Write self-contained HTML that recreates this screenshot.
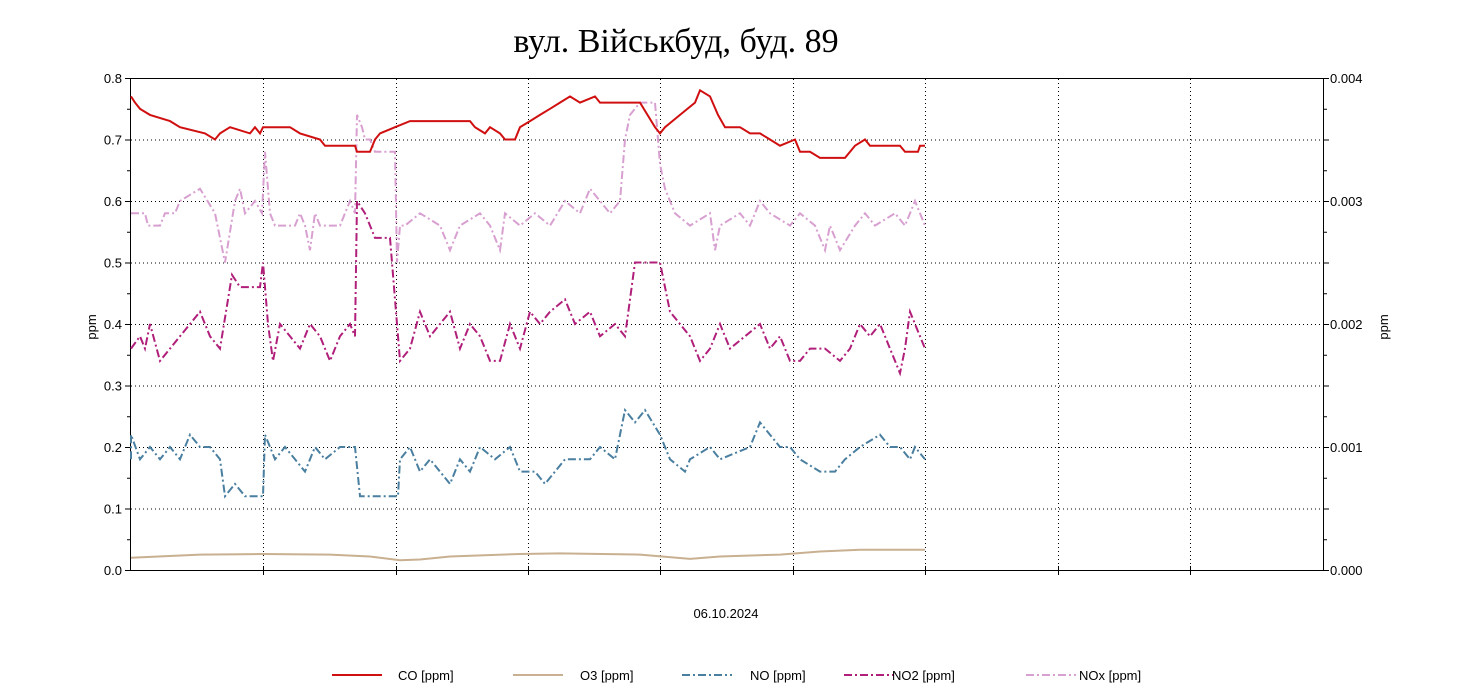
<!DOCTYPE html><html><head><meta charset="utf-8"><style>body{margin:0;background:#fff}svg{display:block}text{font-family:"Liberation Sans",sans-serif}</style></head><body>
<svg id="s" width="1471" height="697" xmlns="http://www.w3.org/2000/svg">
<text x="676" y="52" font-family="Liberation Serif" font-size="34" text-anchor="middle" style="font-family:'Liberation Serif',serif">вул. Військбуд, буд. 89</text>
<g id="grid" stroke="#000" stroke-width="1" stroke-dasharray="1,3"></g>
<rect x="130.5" y="78.5" width="1193" height="492" fill="none" stroke="#000"/>
<g id="ticks" stroke="#000"></g>
<g id="labels" font-size="13"></g>
<text x="726" y="618" font-size="13" text-anchor="middle">06.10.2024</text>
<text transform="translate(96,327) rotate(-90)" font-size="13" text-anchor="middle">ppm</text>
<text transform="translate(1388,327) rotate(-90)" font-size="13" text-anchor="middle">ppm</text>
<g id="series" fill="none" stroke-width="2"></g>
<g font-size="13">
<line x1="332" y1="675" x2="382" y2="675" stroke="#d01010" stroke-width="2"/><text x="398" y="680">CO [ppm]</text>
<line x1="513" y1="675" x2="563" y2="675" stroke="#c8b090" stroke-width="2"/><text x="580" y="680">O3 [ppm]</text>
<line x1="682" y1="675" x2="732" y2="675" stroke="#4a7fa0" stroke-width="2" stroke-dasharray="8,3,2,3"/><text x="750" y="680">NO [ppm]</text>
<line x1="844" y1="675" x2="894" y2="675" stroke="#b0207a" stroke-width="2" stroke-dasharray="8,3,2,3"/><text x="892" y="680" dx="0">NO2 [ppm]</text>
<line x1="1026" y1="675" x2="1076" y2="675" stroke="#d8a0d0" stroke-width="2" stroke-dasharray="8,3,2,3"/><text x="1079" y="680">NOx [ppm]</text>
</g>
</svg>
<script>
const NS="http://www.w3.org/2000/svg";
function el(p,t,a){const e=document.createElementNS(NS,t);for(const k in a)e.setAttribute(k,a[k]);document.getElementById(p).appendChild(e);return e;}
const Y=v=>570-v*615;
for(let i=1;i<=7;i++){const y=Y(i/10)+.5;el('grid','line',{x1:131,x2:1323,y1:y,y2:y});}
[263,396,528,660,793,925,1058,1190].forEach(x=>{el('grid','line',{x1:x+.5,x2:x+.5,y1:79,y2:570});el('ticks','line',{x1:x+.5,x2:x+.5,y1:566,y2:575});});
for(let i=0;i<=16;i++){const y=Y(i/20)+.5;el('ticks','line',{x1:i%2?127:125,x2:130,y1:y,y2:y});el('ticks','line',{x1:1324,x2:i%2?1327:1329,y1:y,y2:y});}
for(let i=0;i<=8;i++){const y=Y(i/10)+5;const t=el('labels','text',{x:122,y:y,'text-anchor':'end'});t.textContent=(i/10).toFixed(1);
if(i%2==0){const r=el('labels','text',{x:1330,y:y});r.textContent=(i/2000).toFixed(3);}}
function S(d,c,dash){let p=[];for(let i=0;i<d.length;i+=2)p.push(d[i]+','+Y(d[i+1]).toFixed(1));const a={points:p.join(' '),stroke:c};if(dash)a['stroke-dasharray']='8,3,2,3';el('series','polyline',a);}
S([131,.18,131,.22,140,.18,150,.20,160,.18,170,.20,180,.18,190,.22,200,.20,210,.20,220,.18,225,.12,235,.14,245,.12,263,.12,265,.22,275,.18,285,.20,295,.18,305,.16,315,.20,325,.18,340,.20,355,.20,360,.12,380,.12,398,.12,400,.18,410,.20,420,.16,430,.18,440,.16,450,.14,460,.18,470,.16,480,.20,495,.18,510,.20,520,.16,535,.16,545,.14,555,.16,565,.18,590,.18,600,.20,615,.18,625,.26,635,.24,645,.26,660,.22,670,.18,685,.16,690,.18,710,.20,720,.18,750,.20,760,.24,770,.22,780,.20,790,.20,800,.18,820,.16,835,.16,845,.18,860,.20,880,.22,890,.20,900,.20,910,.18,915,.20,925,.18],'#4a7fa0',1);
S([131,.58,145,.58,148,.56,160,.56,165,.58,175,.58,180,.60,200,.62,215,.58,225,.50,235,.60,240,.62,245,.58,255,.60,262,.58,265,.68,270,.58,275,.56,295,.56,300,.58,305,.56,310,.52,315,.58,320,.56,340,.56,345,.58,350,.60,355,.58,357,.74,362,.72,365,.70,370,.70,375,.68,395,.68,397,.50,400,.56,405,.56,420,.58,440,.56,450,.52,460,.56,480,.58,490,.56,500,.52,505,.58,520,.56,535,.58,550,.56,565,.60,580,.58,590,.62,600,.60,610,.58,620,.60,625,.70,630,.74,640,.76,655,.76,660,.66,665,.62,675,.58,690,.56,710,.58,715,.52,720,.56,740,.58,750,.56,760,.60,770,.58,790,.56,800,.58,815,.56,825,.52,830,.56,840,.52,855,.56,865,.58,875,.56,895,.58,905,.56,915,.60,925,.56],'#d8a0d0',1);
S([131,.36,140,.38,145,.36,150,.40,160,.34,170,.36,180,.38,190,.40,200,.42,210,.38,220,.36,232,.48,240,.46,260,.46,263,.50,268,.40,273,.34,280,.40,290,.38,300,.36,310,.40,320,.38,330,.34,340,.38,350,.40,355,.38,357,.60,365,.58,375,.54,390,.54,397,.40,400,.34,410,.36,420,.42,430,.38,440,.40,450,.42,460,.36,470,.40,480,.38,490,.34,500,.34,510,.40,520,.36,530,.42,540,.40,550,.42,565,.44,575,.40,590,.42,600,.38,615,.40,625,.38,635,.50,660,.50,670,.42,680,.40,690,.38,700,.34,710,.36,720,.40,730,.36,745,.38,760,.40,770,.36,780,.38,790,.34,800,.34,810,.36,825,.36,840,.34,850,.36,860,.40,870,.38,880,.40,890,.36,900,.32,905,.36,910,.42,920,.38,925,.36],'#b0207a',1);
S([131,.02,200,.025,263,.026,330,.025,370,.022,400,.016,420,.017,450,.022,520,.026,560,.027,640,.025,690,.018,720,.022,780,.025,820,.03,860,.033,925,.033],'#c8b090');
S([131,.77,135,.76,140,.75,150,.74,170,.73,180,.72,205,.71,215,.70,220,.71,230,.72,250,.71,255,.72,260,.71,263,.72,290,.72,300,.71,320,.70,325,.69,355,.69,357,.68,370,.68,375,.70,380,.71,395,.72,410,.73,470,.73,475,.72,485,.71,490,.72,500,.71,505,.70,515,.70,520,.72,530,.73,540,.74,550,.75,560,.76,570,.77,580,.76,595,.77,600,.76,640,.76,655,.72,660,.71,665,.72,680,.74,695,.76,700,.78,710,.77,718,.74,725,.72,740,.72,750,.71,760,.71,770,.70,780,.69,795,.70,800,.68,810,.68,820,.67,845,.67,855,.69,865,.70,870,.69,900,.69,905,.68,918,.68,920,.69,925,.69],'#d01010');
</script></body></html>
